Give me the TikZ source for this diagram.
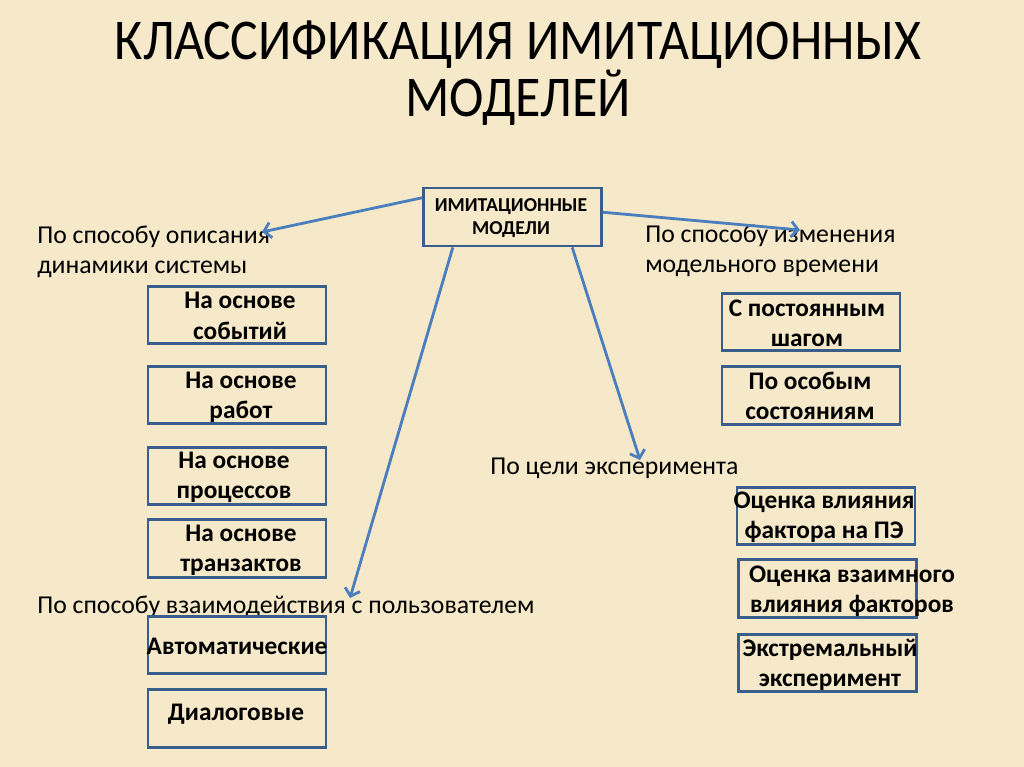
\documentclass[tikz,border=0pt]{standalone}
\usepackage{fontspec}
\setmainfont{Carlito}
\usetikzlibrary{arrows.meta}
\definecolor{parchment}{RGB}{245,233,201}
\definecolor{boxblue}{RGB}{58,94,140}
\definecolor{arrowblue}{RGB}{74,126,190}
\begin{document}
\begin{tikzpicture}[x=0.025cm,y=-0.025cm]
	\tikzset{mbox/.style = {draw=boxblue, line width=2pt, minimum width=4.45cm, minimum height=1.43cm, inner sep=0pt}}
	\tikzset{btext/.style = {font=\bfseries\fontsize{18}{21.5}\selectfont, align=center, inner sep=0pt}}
	\tikzset{lbl/.style = {font=\fontsize{18.3}{21.5}\selectfont, align=left, anchor=west, inner sep=0pt}}
	\tikzset{edge/.style = {draw=arrowblue, line width=2pt, ->, > = {Straight Barb[length=5pt,width=11pt]}}}
	\useasboundingbox[fill=parchment] (0,0) rectangle (1024,767);
	% title
	\node[font=\fontsize{41}{39}\selectfont, align=center, xscale=0.9] (ttl) at (518,73) {КЛАССИФИКАЦИЯ ИМИТАЦИОННЫХ\\МОДЕЛЕЙ};
	% root
	\node[mbox, minimum height=1.45cm] (c) at (512.5,217) {};
	\node[btext, font=\bfseries\fontsize{14}{16.5}\selectfont] (ct) at (511,218) {ИМИТАЦИОННЫЕ\\МОДЕЛИ};
	% groups
	\node[lbl] (dyn) at (37,252) {По способу описания\\динамики системы};
	\node[lbl] (time) at (645,251) {По способу изменения\\модельного времени};
	\node[lbl] (goal) at (490,468) {По цели эксперимента};
	\node[lbl] (inter) at (37,607) {По способу взаимодействия с пользователем};
	% left column
	\node[mbox] (b1) at (237,315) {};
	\node[btext] (b1t) at (240,316) {На основе\\событий};
	\node[mbox] (b2) at (237,395) {};
	\node[btext] (b2t) at (241,397) {На основе\\работ};
	\node[mbox] (b3) at (237,476) {};
	\node[btext] (b3t) at (234,477) {На основе\\процессов};
	\node[mbox] (b4) at (237,548.5) {};
	\node[btext] (b4t) at (241,550) {На основе\\транзактов};
	\node[mbox] (u1) at (237,645) {};
	\node[btext] (u1t) at (237,646) {Автоматические};
	\node[mbox] (u2) at (237,718.5) {};
	\node[btext] (u2t) at (236,714) {Диалоговые};
	% right column
	\node[mbox] (r1) at (811,322) {};
	\node[btext] (r1t) at (807,323) {С постоянным\\шагом};
	\node[mbox] (r2) at (811,395.5) {};
	\node[btext] (r2t) at (810,396) {По особым\\состояниям};
	\node[mbox] (e1) at (826,516) {};
	\node[btext] (e1t) at (824,517) {Оценка влияния\\фактора на ПЭ};
	\node[mbox] (e2) at (827.5,588.5) {};
	\node[btext] (e2t) at (852,591) {Оценка взаимного\\влияния факторов};
	\node[mbox] (e3) at (827.5,663) {};
	\node[btext] (e3t) at (830,665) {Экстремальный\\эксперимент};
	% arrows
	\coordinate (a1) at (262,232);
	\coordinate (a2) at (800,230);
	\coordinate (a3) at (350,598);
	\coordinate (a4) at (640,460);
	\draw[edge] (c.168) -- (a1);
	\draw[edge] (c.3) -- (a2);
	\draw[edge] (c.207) -- (a3);
	\draw[edge] (c.333) -- (a4);
\end{tikzpicture}
\end{document}
